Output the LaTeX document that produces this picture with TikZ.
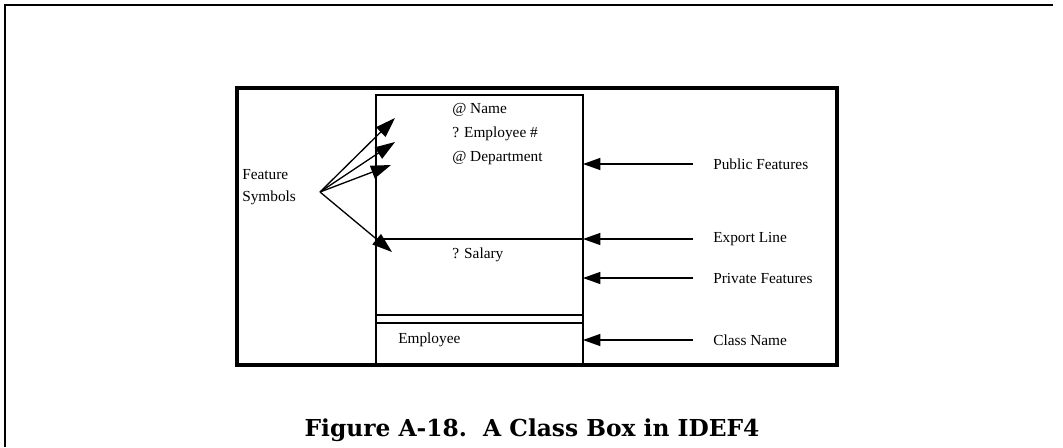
\documentclass[tikz,border=0pt]{standalone}
\usepackage{fontspec}
\setmainfont{Liberation Serif}
\newfontfamily\capfont{DejaVu Serif}
\usetikzlibrary{arrows.meta,positioning,calc}

\begin{document}
\begin{tikzpicture}[
    x=0.75pt, y=-0.75pt,
    >={Triangle[length=13pt,width=9pt]},
    font=\fontsize{11.5}{13}\selectfont,
    lbl/.style={anchor=west, inner sep=0pt},
    feat/.style={anchor=west, inner sep=0pt},
    ptr/.style={->, line width=1pt},
    symptr/.style={-{Triangle[length=15pt,width=10pt]}, line width=1pt},
    rule/.style={line width=1pt}
  ]
  \useasboundingbox (0,0) rectangle (1063,447);

  % --- page frame and figure frame ---
  \draw[line width=2.2pt] (5,447) -- (5,5) -- (1053,5);
  \draw[line width=3pt] (237,88) rectangle (837,365);

  % --- class box ---
  \coordinate (boxnw) at (376,95);
  \coordinate (boxse) at (583,365);
  \draw[rule] (boxnw) rectangle (boxse);
  \coordinate (exp) at (376,239);
  \draw[rule] (exp) -- (exp -| boxse);
  \coordinate (dbla) at (376,315);
  \coordinate (dblb) at (376,323);
  \draw[rule] (dbla) -- (dbla -| boxse);
  \draw[rule] (dblb) -- (dblb -| boxse);

  \node[feat] (name) at (452,110) {@ Name};
  \node[feat] (empno) at (452,134) {? Employee \#};
  \node[feat] (dept) at (452,158) {@ Department};
  \node[feat] (sal) at (452,255) {? Salary};
  \node[feat] (cls) at (398,340) {Employee};

  % --- labels on the right ---
  \node[lbl] (pub) at (713,164) {Public Features};
  \node[lbl] (expt) at (713,239) {Export Line};
  \node[lbl] (priv) at (713,278) {Private Features};
  \node[lbl] (cname) at (713,340) {Class Name};

  \draw[ptr] ([xshift=-15pt]pub.west) -- (pub.west -| boxse);
  \draw[ptr] ([xshift=-15pt]expt.west) -- (expt.west -| boxse);
  \draw[ptr] ([xshift=-15pt]priv.west) -- (priv.west -| boxse);
  \draw[ptr] ([xshift=-15pt]cname.west) -- (cname.west -| boxse);

  % --- feature symbols ---
  \node[lbl, align=left, font=\fontsize{11.5}{17}\selectfont] (fsym) at (242,187) {Feature\\Symbols};
  \coordinate (fs) at (320,192);
  \coordinate (tname) at (395,118);
  \coordinate (tempno) at (395,142);
  \coordinate (tdept) at (391,165);
  \coordinate (tsal) at (392,252);
  \draw[symptr] (fs) -- (tname);
  \draw[symptr] (fs) -- (tempno);
  \draw[symptr] (fs) -- (tdept);
  \draw[symptr] (fs) -- (tsal);

  % --- caption ---
  \node[font=\capfont\bfseries\fontsize{17.5}{20}\selectfont] (cap) at (532,430)
       {Figure A-18.\ \ A Class Box in IDEF4};
\end{tikzpicture}
\end{document}
